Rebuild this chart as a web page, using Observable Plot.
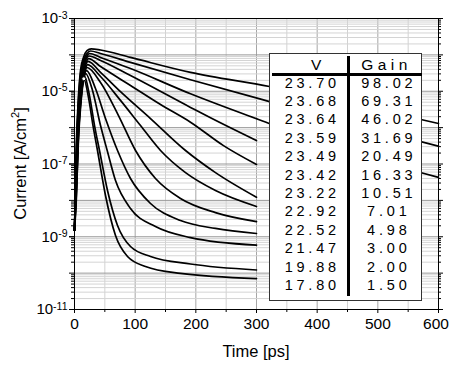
<!DOCTYPE html>
<html><head><meta charset="utf-8">
<script src="https://cdn.jsdelivr.net/npm/d3@7"></script>
<script src="https://cdn.jsdelivr.net/npm/@observablehq/plot@0.6"></script>
<style>
html,body{margin:0;padding:0;background:#fff;}
#wrap{position:relative;width:450px;height:365px;font-family:"Liberation Sans",Arial,sans-serif;color:#000;}
#tbl{position:absolute;left:269px;top:53px;width:153px;height:248px;background:#fff;border:1px solid #333;box-sizing:border-box;}
#tbl .c{position:absolute;text-align:center;color:#000;white-space:nowrap;}
#tbl .n{font-size:14.5px;letter-spacing:3.8px;padding-left:3.8px;line-height:16px;}
#tbl .h{font-size:15.5px;letter-spacing:4.5px;padding-left:4.5px;line-height:18px;}
.ttl{position:absolute;font-size:16.5px;line-height:19px;white-space:nowrap;text-align:center;}
.ttl sup{font-size:11px;vertical-align:0;position:relative;top:-7px;}
</style></head><body><div id="wrap"></div>
<script>
// ---- table values ----
const tableV = ["23.70","23.68","23.64","23.59","23.49","23.42","23.22","22.92","22.52","21.47","19.88","17.80"];
const tableGain = ["98.02","69.31","46.02","31.69","20.49","16.33","10.51","7.01","4.98","3.00","2.00","1.50"];

// ---- axis ticks ----
const xTickValues = [0,100,200,300,400,500,600];
const xMinorTicks = [50,150,250,350,450,550];
const yLabelExponents = [-3,-5,-7,-9,-11];
const yDecadeExponents = [-11,-10,-9,-8,-7,-6,-5,-4,-3];
const yMinorMultipliers = [2,3,4,5,6,7,8,9];
const xTitle = "Time [ps]";
const yTitle = "Current [A/cm";
const yTitleSup = "2";

// ---- curves: time [ps] and current [A/cm2], one pair per gain ----
const t_9802 = [0,3.3,6.6,9.9,14.8,20.6,27.5,42.9,92.3,191.2,321.4,455,600];
const i_9802 = [1.5e-9,4.4e-7,7.6e-6,3.7e-5,8.5e-5,1.3e-4,1.47e-4,1.36e-4,8.5e-5,3.3e-5,1.35e-5,4.6e-6,1.3e-6];
const t_6931 = [0,3.3,6.6,9.9,14.8,20.6,26.4,42.9,92.3,191.2,321.4,455,600];
const i_6931 = [1.5e-9,3.2e-7,5.6e-6,2.9e-5,7.0e-5,1.09e-4,1.28e-4,1.09e-4,6.2e-5,2.07e-5,5.2e-6,1.3e-6,3.1e-7];
const t_4602 = [0,3.3,6.6,9.9,14.8,19.8,24.7,42.9,92.3,191.2,303.3,455,600];
const i_4602 = [1.5e-9,2.35e-7,4.3e-6,2.24e-5,5.8e-5,9.0e-5,1.09e-4,8.5e-5,4.2e-5,8.5e-6,1.67e-6,2.07e-7,4.3e-8];
const t_3169 = [0,3.3,6.6,9.9,14.8,19,23.9,42.9,92.3,191.2,224.2,300];
const i_3169 = [1.5e-9,1.7e-7,3.4e-6,1.74e-5,4.5e-5,7.5e-5,9.3e-5,7.0e-5,2.7e-5,3.6e-6,1.86e-6,4.4e-7];
const t_2049 = [0,3.3,6.6,9.9,14.8,19,23.1,42.9,92.3,141.8,191.2,245.6,300];
const i_2049 = [1.5e-9,1.25e-7,2.6e-6,1.35e-5,3.7e-5,6.2e-5,7.9e-5,4.8e-5,1.44e-5,4.3e-6,1.41e-6,3.2e-7,9.7e-8];
const t_1633 = [0,3.3,6.6,9.9,14.8,18.1,22.3,42.9,75.8,125.3,183,232.4,300];
const i_1633 = [1.5e-9,9.1e-8,2.0e-6,1.05e-5,3.1e-5,5.1e-5,6.6e-5,3.3e-5,9.8e-6,1.78e-6,2.35e-7,5.8e-8,1.22e-8];
const t_1051 = [0,3.3,6.6,9.9,14.8,18.1,21.4,42.9,75.8,108.8,141.8,183,232.4,300];
const i_1051 = [1.5e-9,6.6e-8,1.57e-6,8.1e-6,2.54e-5,4.2e-5,5.4e-5,2.54e-5,5.6e-6,1.14e-6,2.35e-7,5.8e-8,1.87e-8,6.8e-9];
const t_701 = [0,3.3,6.6,9.9,14,17.3,20.6,42.9,72.5,100.6,133.5,174.7,232.4,300];
const i_701 = [1.5e-9,4.8e-8,1.22e-6,6.3e-6,1.98e-5,3.5e-5,4.5e-5,1.74e-5,2.15e-6,2.35e-7,4.0e-8,1.13e-8,4.6e-9,2.6e-9];
const t_498 = [0,3.3,6.6,9.9,13.2,16.5,19.8,34.6,51.1,70.9,92.3,125.3,174.7,232.4,300];
const i_498 = [1.5e-9,3.5e-8,9.5e-7,4.9e-6,1.53e-5,2.9e-5,3.7e-5,1.19e-5,1.78e-6,2.35e-7,4.0e-8,8.2e-9,2.8e-9,1.69e-9,1.23e-9];
const t_300 = [0,3.3,6.6,9.9,13.2,15.7,18.1,29.7,42.9,53.9,67.6,92.3,133.5,191.2,300];
const i_300 = [1.5e-9,2.56e-8,6.9e-7,4.1e-6,1.44e-5,2.39e-5,3.1e-5,1.05e-5,1.14e-6,2.35e-7,3.5e-8,6.0e-9,1.91e-9,9.5e-10,5.9e-10];
const t_200 = [0,3.3,6.6,9.9,13.2,14.8,16.5,24.7,33,41.2,54.4,70.9,92.3,125.3,191.2,300];
const i_200 = [1.5e-9,1.87e-8,5.0e-7,3.4e-6,1.27e-5,2.04e-5,2.62e-5,7.6e-6,1.14e-6,2.35e-7,1.87e-8,2.04e-9,5.4e-10,2.86e-10,1.78e-10,1.22e-10];
const t_150 = [0,3.3,5.8,8.2,11.5,13.7,15.3,23.1,30.5,37.9,51.1,67.6,87.4,117,174.7,300];
const i_150 = [1.5e-9,1.36e-8,3.2e-7,2.44e-6,1.05e-5,1.85e-5,2.2e-5,6.7e-6,1.14e-6,2.35e-7,1.36e-8,1.08e-9,2.86e-10,1.52e-10,9.8e-11,7.1e-11];
const loopMarkerIndex = 6; // small loop at the peak of the lowest-gain curve

const curveTimes = [t_9802,t_6931,t_4602,t_3169,t_2049,t_1633,t_1051,t_701,t_498,t_300,t_200,t_150];
const curveCurrents = [i_9802,i_6931,i_4602,i_3169,i_2049,i_1633,i_1051,i_701,i_498,i_300,i_200,i_150];

const rows = [];
curveTimes.forEach((ts, s) => ts.forEach((t, k) => rows.push({gain: tableGain[s], t, c: curveCurrents[s][k]})));
const loopDot = [{t: t_150[loopMarkerIndex], c: i_150[loopMarkerIndex]}];

const decades = yDecadeExponents.map(e => Math.pow(10, e));
const minors = [];
yDecadeExponents.slice(0, -1).forEach(e => yMinorMultipliers.forEach(m => minors.push(m * Math.pow(10, e))));
const labeled = yLabelExponents.map(e => Math.pow(10, e));

const font = "Liberation Sans, Arial, sans-serif";
const chart = Plot.plot({
  width: 450, height: 365,
  marginLeft: 74, marginRight: 12, marginTop: 18, marginBottom: 56,
  style: {fontFamily: font, fontSize: "14px", color: "black", background: "white"},
  x: {domain: [0, 600]},
  y: {type: "log", domain: [1e-11, 1e-3]},
  marks: [
    Plot.gridX(xMinorTicks, {stroke: "#d2d2d2", strokeOpacity: 1}),
    Plot.gridX(xTickValues.slice(1, -1), {stroke: "#a6a6a6", strokeOpacity: 1}),
    Plot.gridY(minors, {stroke: "#d4d4d4", strokeOpacity: 1}),
    Plot.gridY(decades, {stroke: "#999", strokeOpacity: 1}),
    Plot.line(rows, {x: "t", y: "c", z: "gain", stroke: "black", strokeWidth: 1.7, curve: "monotone-x"}),
    Plot.dot(loopDot, {x: "t", y: "c", r: 2, stroke: "black", strokeWidth: 1, fill: "white"}),
    Plot.frame({stroke: "black"}),
    Plot.axisX(xTickValues, {tickSize: 4, tickPadding: 4, label: null, tickFormat: d => String(d)}),
    Plot.axisX(xMinorTicks, {tickSize: 3, tickFormat: () => "", label: null}),
    Plot.axisY(labeled, {tickSize: 5, tickPadding: 2, tickFormat: d => "10^" + Math.round(Math.log10(d)), label: null}),
    Plot.axisY(decades, {tickSize: 5, tickFormat: () => "", label: null}),
    Plot.axisY(minors, {tickSize: 3, tickFormat: () => "", label: null}),
    Plot.axisY(decades, {anchor: "right", tickSize: 4, tickFormat: () => "", label: null}),
    Plot.axisY(minors, {anchor: "right", tickSize: 2, tickFormat: () => "", label: null})
  ]
});

// tick label fonts
d3.select(chart).selectAll('g[aria-label="x-axis tick label"]').attr("font-size", 15.5).attr("font-family", font);
d3.select(chart).selectAll('g[aria-label="x-axis tick label"] text').each(function() {
  if (this.textContent === "600") d3.select(this).attr("dx", -2.5);
});
d3.select(chart).selectAll('g[aria-label="y-axis tick label"]').attr("font-size", 15).attr("font-family", font);
// superscript exponents on y tick labels
d3.select(chart).selectAll('g[aria-label="y-axis tick label"] text').each(function() {
  const s = this.textContent;
  if (!s.includes("^")) return;
  const exp = s.split("^")[1];
  const sel = d3.select(this);
  sel.text("");
  sel.append("tspan").text("10");
  sel.append("tspan").attr("dy", "-0.45em").attr("font-size", "10.5px").text(exp);
});

const wrap = document.getElementById("wrap");
wrap.appendChild(chart);

// ---- axis titles ----
const xt = document.createElement("div");
xt.className = "ttl";
xt.textContent = xTitle;
xt.style.cssText = "left:176px;width:160px;top:342px;";
wrap.appendChild(xt);
const yt = document.createElement("div");
yt.className = "ttl";
yt.innerHTML = yTitle + "<sup>" + yTitleSup + "</sup>]";
yt.style.cssText = "left:-60px;width:160px;top:154px;transform:rotate(-90deg);transform-origin:80px 9.5px;";
wrap.appendChild(yt);

// ---- V / Gain table overlay ----
const tbl = document.createElement("div");
tbl.id = "tbl";
wrap.appendChild(tbl);
function cell(text, cls, cx, cy, w) {
  const d = document.createElement("div");
  d.className = "c " + cls;
  d.textContent = text;
  d.style.left = (cx - w / 2) + "px";
  d.style.width = w + "px";
  d.style.top = cy + "px";
  tbl.appendChild(d);
  return d;
}
function bar(l, t, w, h) {
  const d = document.createElement("div");
  d.style.cssText = `position:absolute;left:${l}px;top:${t}px;width:${w}px;height:${h}px;background:#000;`;
  tbl.appendChild(d);
}
cell("V", "h", 44, 2, 40);
cell("Gain", "h", 112, 2, 70);
bar(2, 19, 150, 2.5);
bar(76.5, 2, 3, 240);
tableV.forEach((v, i) => {
  cell(v, "n", 38.5, 20.5 + 18.4 * i, 70);
  cell(tableGain[i], "n", 115, 20.5 + 18.4 * i, 70);
});
</script></body></html>
